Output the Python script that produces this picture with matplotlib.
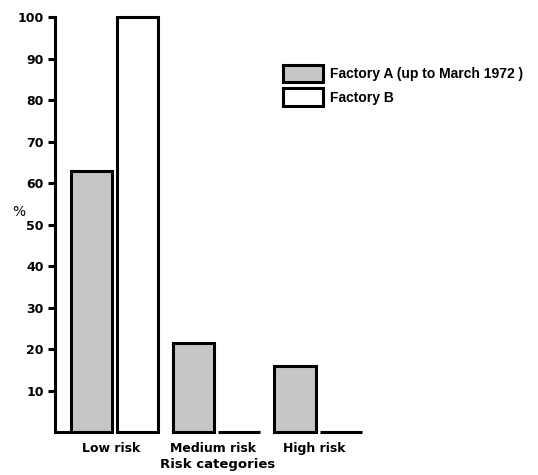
import matplotlib
matplotlib.use("Agg")
import matplotlib.pyplot as plt
import numpy as np

categories = ["Low risk", "Medium risk", "High risk"]
factory_a = [63, 21.5, 16]
factory_b = [100, 0, 0]
series_labels = ["Factory A (up to March 1972 )", "Factory B"]
y_ticks = [10, 20, 30, 40, 50, 60, 70, 80, 90, 100]

plt.rcParams['font.family'] = ['DejaVu Sans']
plt.rcParams['font.weight'] = 'bold'

fig = plt.figure(figsize=(5.38, 4.75), dpi=100)
ax = fig.add_axes([0.102, 0.0905, 0.604, 0.8735])

x = np.arange(len(categories))
w = 0.41
xa = x - 0.19
xb = x + 0.26
lw = 2.2

ax.bar(xa, factory_a, w, facecolor="#c6c6c6", edgecolor="black", linewidth=lw,
       label=series_labels[0], clip_on=False)
ax.bar(xb, factory_b, w, facecolor="white", edgecolor="black", linewidth=lw,
       label=series_labels[1], clip_on=False)

left = -0.55
ax.set_xlim(left, 2.64)
ax.set_ylim(0, 100)
# baseline from the axis to the first bar
ax.hlines(0, left, xa[0] - w / 2, colors="black", linewidth=lw, clip_on=False)

for s in ("top", "right", "bottom"):
    ax.spines[s].set_visible(False)
ax.spines["left"].set_linewidth(2.2)

ax.set_yticks(y_ticks)
ax.tick_params(axis="y", length=5, width=2.2, labelsize=9, pad=3)
ax.set_xticks(x)
ax.set_xticklabels(categories)
ax.tick_params(axis="x", length=0, labelsize=9, pad=7)
ax.set_xlabel("Risk categories", fontsize=9.5, fontweight="bold", labelpad=2)
ax.set_ylabel("%", fontsize=10, rotation=0, ha="center", va="center")
ax.yaxis.set_label_coords(-0.11, 0.53)

fig.legend(loc="upper left", bbox_to_anchor=(0.503, 0.89), frameon=False,
           prop={"family": "Liberation Sans", "weight": "bold", "size": 10},
           handlelength=2.9, handleheight=1.55, handletextpad=0.5,
           labelspacing=0.45)

fig.savefig("out.png", dpi=100)
